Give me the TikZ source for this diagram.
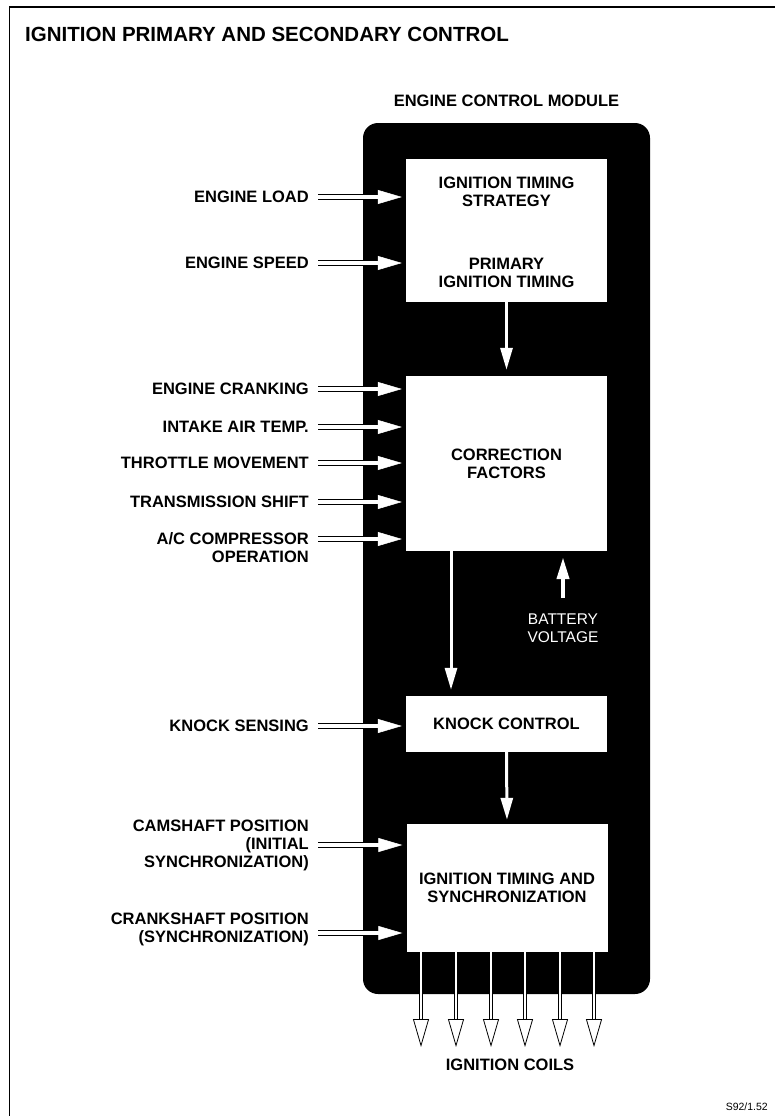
\documentclass[tikz,border=0pt]{standalone}
\usepackage{fontspec}
\setmainfont{Liberation Sans}
\usepackage{tikz}
\usetikzlibrary{arrows.meta,positioning}
\tikzset{lbl/.style={anchor=east,align=right,inner sep=0pt,font=\bfseries\fontsize{16.5}{18}\selectfont},
  blk/.style={fill=white,minimum width=201pt,inner sep=0pt,align=center,font=\bfseries\fontsize{16.5}{18}\selectfont},
  inshaft/.style={draw=black,line width=1pt,double=white,double distance=4.5pt,shorten >=27pt},
  inhead/.style={draw=white,line width=0.5pt,-{Triangle[length=24pt 0,width=14pt 0]},shorten >=4pt},
  wire/.style={draw=white,line width=3pt,-{Triangle[length=22pt 0,width=12pt 0]}},
  coilshaft/.style={draw=black,line width=0.8pt,double=white,double distance=2.4pt,shorten >=27pt},
  coilhead/.style={draw=black,line width=0.8pt,-{Triangle[length=28pt 0,width=16pt 0,fill=white]},shorten <=66.5pt}}

\begin{document}
\begin{tikzpicture}[x=1pt,y=-1pt]
    \useasboundingbox (0,0) rectangle (775,1116);
    \draw[line width=1.5pt] (775,7) -- (9.5,7) -- (9.5,1116);

    \node[anchor=base west,inner sep=0pt,font=\bfseries\fontsize{20.5}{24}\selectfont] (title) at (25,42) {IGNITION PRIMARY AND SECONDARY CONTROL};
    \node[inner sep=0pt,font=\bfseries\fontsize{16.5}{18}\selectfont] (ecmlbl) at (506.5,101) {ENGINE CONTROL MODULE};

    \node[fill=black,rounded corners=15pt,minimum width=287pt,minimum height=871pt,inner sep=0pt] (ecm) at (506.5,558.5) {};

    \node[blk,minimum height=143pt] (b1) at (506.5,230.5) {};
    \node[blk] (strat) at (506.5,192) {IGNITION TIMING\\STRATEGY};
    \node[blk,fill=none] (prim) at (506.5,272.5) {PRIMARY\\IGNITION TIMING};
    \node[blk,minimum height=175pt] (b2) at (506.5,463.5) {CORRECTION\\FACTORS};
    \node[blk,minimum height=56pt] (b3) at (506.5,724) {KNOCK CONTROL};
    \node[blk,minimum height=128pt] (b4) at (507,888) {IGNITION TIMING AND\\SYNCHRONIZATION};

    \node[lbl] (load) at (309,197) {ENGINE LOAD};
    \node[lbl] (speed) at (309,263) {ENGINE SPEED};
    \node[lbl] (crank) at (309,389) {ENGINE CRANKING};
    \node[lbl] (air) at (309,427) {INTAKE AIR TEMP.};
    \node[lbl] (thr) at (309,463) {THROTTLE MOVEMENT};
    \node[lbl] (trans) at (309,502) {TRANSMISSION SHIFT};
    \node[lbl] (ac) at (309,548) {A/C COMPRESSOR\\OPERATION};
    \node[lbl] (knock) at (309,726) {KNOCK SENSING};
    \node[lbl] (cam) at (309,845) {CAMSHAFT POSITION\\(INITIAL\\SYNCHRONIZATION)};
    \node[lbl] (cks) at (309,929) {CRANKSHAFT POSITION\\(SYNCHRONIZATION)};

    \coordinate (i1) at (318,197);
    \coordinate (i2) at (318,263);
    \coordinate (i3) at (318,389);
    \coordinate (i4) at (318,427);
    \coordinate (i5) at (318,463);
    \coordinate (i6) at (318,502);
    \coordinate (i7) at (318,539);
    \coordinate (i8) at (318,726);
    \coordinate (i9) at (318,845);
    \coordinate (i10) at (318,933);

    \foreach \i/\b in {1/b1,2/b1,3/b2,4/b2,5/b2,6/b2,7/b2,8/b3,9/b4,10/b4} {
        \draw[inshaft] (i\i) -- (i\i -| \b.west);
        \draw[inhead] (i\i) -- (i\i -| \b.west);
    }

    \draw[wire,shorten >=6pt] (b1.south) -- (b2.north);
    \draw[wire,shorten >=6pt] ([xshift=-55.5pt]b2.south) -- ([xshift=-55.5pt]b3.north);
    \draw[wire,shorten >=4pt] (b3.south) -- (b4.north);

    \coordinate (bat) at (563,598);
    \draw[wire,line width=4pt,shorten >=6pt] (bat) -- (bat |- b2.south);
    \node[white,align=center,inner sep=0pt,font=\fontsize{15.5}{18}\selectfont] (bv) at (563,628) {BATTERY\\VOLTAGE};

    \foreach \x [count=\i] in {421,456,491,525,560,594} {
        \coordinate (c\i) at (\x,1047);
        \draw[coilshaft] (b4.south -| c\i) -- (c\i);
        \draw[coilhead] (b4.south -| c\i) -- (c\i);
    }
    \node[inner sep=0pt,font=\bfseries\fontsize{16.5}{18}\selectfont] (coils) at (510,1065) {IGNITION COILS};

    \node[anchor=east,inner sep=0pt,font=\fontsize{10.5}{12}\selectfont] (ref) at (768,1107) {S92/1.52};
\end{tikzpicture}
\end{document}
